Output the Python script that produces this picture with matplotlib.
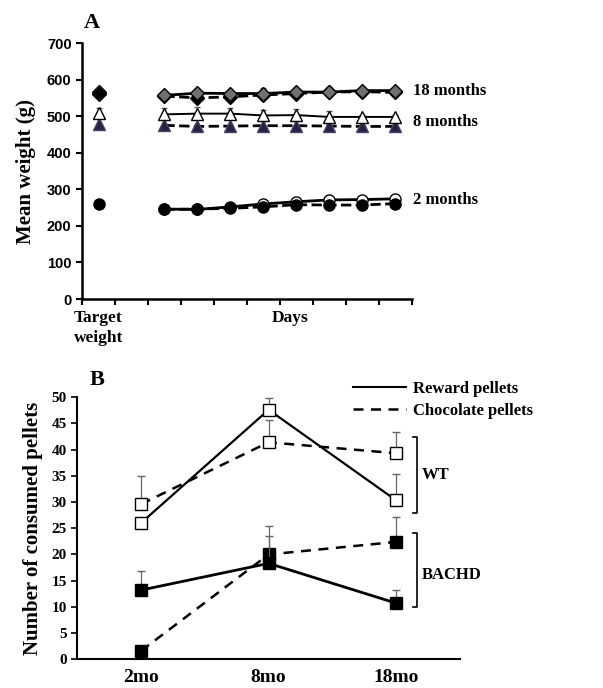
import matplotlib.pyplot as plt

# Panel A data (index 0 = target weight, 2..9 = days)
days_x = [2, 3, 4, 5, 6, 7, 8, 9]
target_x = 0
m18_wt = [557, 563, 562, 562, 566, 566, 570, 570]
m18_wt_err = [12, 8, 8, 14, 8, 14, 8, 6]
m18_hd = [555, 550, 553, 558, 562, 566, 567, 565]
m8_wt = [505, 507, 507, 502, 503, 498, 498, 498]
m8_wt_err = [18, 18, 16, 16, 16, 16, 6, 6]
m8_hd = [475, 472, 473, 474, 474, 473, 472, 472]
m2_wt = [246, 245, 252, 260, 266, 271, 272, 274]
m2_hd = [245, 246, 248, 252, 258, 257, 257, 261]
target_vals = {"m18_wt": 567, "m18_hd": 562, "m8_wt": 509, "m8_hd": 479,
               "m2_wt": 260, "m2_hd": 260}

# Panel B data
ages = ["2mo", "8mo", "18mo"]
wt_reward = [26.0, 47.6, 30.3]
wt_reward_err = [0.0, 2.2, 5.0]
wt_choc = [29.6, 41.4, 39.3]
wt_choc_err = [5.4, 4.3, 4.1]
hd_reward = [13.2, 18.3, 10.7]
hd_reward_err = [3.6, 5.3, 2.5]
hd_choc = [1.6, 20.0, 22.4]
hd_choc_err = [0.0, 5.5, 4.8]

serif = "Liberation Serif"
sans = "Liberation Sans"

fig = plt.figure(figsize=(6.03, 6.88), dpi=100)

# ---------------- Panel A ----------------
ax1 = fig.add_axes([0.136, 0.5654, 0.547, 0.372])

ax1.plot(days_x, m18_hd, "--", color="black", lw=2.0, marker="D", ms=7,
         mfc="black", mec="black", zorder=3)
ax1.errorbar(days_x, m18_wt, yerr=[[0]*8, m18_wt_err], fmt="-", color="black", lw=2.0,
             marker="D", ms=7, mfc="#707070", mec="black", ecolor="#555555",
             elinewidth=0.8, capsize=2, zorder=4)
ax1.plot(days_x, m8_hd, "--", color="black", lw=2.0, marker="^", ms=8,
         mfc="#2a2140", mec="#4a4070", zorder=3)
ax1.errorbar(days_x, m8_wt, yerr=[[0]*8, m8_wt_err], fmt="-", color="black", lw=1.4,
             marker="^", ms=9, mfc="white", mec="black", ecolor="#555555",
             elinewidth=0.8, capsize=2, zorder=4)
ax1.plot(days_x, m2_wt, "-", color="black", lw=2.0, marker="o", ms=8,
         mfc="white", mec="black", zorder=3)
ax1.plot(days_x, m2_hd, "--", color="black", lw=2.0, marker="o", ms=8,
         mfc="black", mec="black", zorder=4)

# target weights
ax1.plot(target_x, target_vals["m18_wt"], "D", ms=7, mfc="#707070", mec="black")
ax1.plot(target_x, target_vals["m18_hd"], "D", ms=7, mfc="black", mec="black")
ax1.errorbar(target_x, target_vals["m8_wt"], yerr=[[0], [14]], fmt="^", ms=9,
             mfc="white", mec="black", ecolor="#555555", elinewidth=0.8, capsize=2)
ax1.plot(target_x, target_vals["m8_hd"], "^", ms=8, mfc="#2a2140", mec="#4a4070")
ax1.plot(target_x, target_vals["m2_hd"], "o", ms=8, mfc="black", mec="black")

ax1.set_xlim(-0.5, 9.5)
ax1.set_ylim(0, 700)
ax1.set_yticks(range(0, 701, 100))
ax1.set_xticks([i - 0.5 for i in range(11)])
ax1.set_xticklabels([])
ax1.tick_params(axis="both", direction="out", length=4, width=1.5)
for lab in ax1.get_yticklabels():
    lab.set_fontfamily(sans)
    lab.set_fontweight("bold")
    lab.set_fontsize(10.5)
ax1.spines["top"].set_visible(False)
ax1.spines["right"].set_visible(False)
ax1.spines["left"].set_linewidth(1.8)
ax1.spines["bottom"].set_linewidth(1.8)
ax1.set_ylabel("Mean weight (g)", family=serif, weight="bold", fontsize=15, labelpad=8)

ax1.text(0, -30, "Target\nweight", ha="center", va="top", family=serif,
         weight="bold", fontsize=12.5, linespacing=1.3)
ax1.text(5.8, -30, "Days", ha="center", va="top", family=serif,
         weight="bold", fontsize=12.5)
ax1.text(9.55, 568, "18 months", ha="left", va="center", family=serif,
         weight="bold", fontsize=12, clip_on=False)
ax1.text(9.55, 483, "8 months", ha="left", va="center", family=serif,
         weight="bold", fontsize=12, clip_on=False)
ax1.text(9.55, 270, "2 months", ha="left", va="center", family=serif,
         weight="bold", fontsize=12, clip_on=False)
fig.text(0.153, 0.967, "A", family=serif, weight="bold", fontsize=16,
         ha="center", va="center")

# ---------------- Panel B ----------------
ax2 = fig.add_axes([0.128, 0.0417, 0.635, 0.381])
xb = [0, 1, 2]

ax2.errorbar(xb, wt_choc, yerr=[[0]*3, wt_choc_err], fmt="--", color="black",
             lw=1.8, dashes=(4, 3), marker="s", ms=8, mfc="white", mec="black",
             ecolor="#666666", elinewidth=0.9, capsize=3, zorder=3)
ax2.errorbar(xb, wt_reward, yerr=[[0]*3, wt_reward_err], fmt="-", color="black",
             lw=1.6, marker="s", ms=8, mfc="white", mec="black",
             ecolor="#666666", elinewidth=0.9, capsize=3, zorder=4)
ax2.errorbar(xb, hd_choc, yerr=[[0]*3, hd_choc_err], fmt="--", color="black",
             lw=1.8, dashes=(4, 3), marker="s", ms=8, mfc="black", mec="black",
             ecolor="#666666", elinewidth=0.9, capsize=3, zorder=3)
ax2.errorbar(xb, hd_reward, yerr=[[0]*3, hd_reward_err], fmt="-", color="black",
             lw=2.0, marker="s", ms=8, mfc="black", mec="black",
             ecolor="#666666", elinewidth=0.9, capsize=3, zorder=4)

ax2.set_xlim(-0.5, 2.5)
ax2.set_ylim(0, 50)
ax2.set_yticks(range(0, 51, 5))
ax2.set_xticks(xb)
ax2.set_xticklabels(ages, family=serif, weight="bold", fontsize=14)
ax2.tick_params(axis="x", length=0, pad=7)
ax2.tick_params(axis="y", direction="out", length=4, width=1.2)
for lab in ax2.get_yticklabels():
    lab.set_fontfamily(serif)
    lab.set_fontweight("bold")
    lab.set_fontsize(11)
ax2.spines["top"].set_visible(False)
ax2.spines["right"].set_visible(False)
ax2.spines["left"].set_linewidth(1.5)
ax2.spines["bottom"].set_linewidth(1.5)
ax2.set_ylabel("Number of consumed pellets", family=serif, weight="bold",
               fontsize=15, labelpad=6)

# group brackets
bx = 2.16
for lo, hi, name in [(28.0, 42.5, "WT"), (10.0, 24.0, "BACHD")]:
    ax2.plot([bx - 0.03, bx, bx, bx - 0.03], [lo, lo, hi, hi], color="black",
             lw=1.2, clip_on=False)
ax2.text(bx + 0.04, 35.2, "WT", family=serif, weight="bold", fontsize=12,
         ha="left", va="center")
ax2.text(bx + 0.04, 16.0, "BACHD", family=serif, weight="bold", fontsize=12,
         ha="left", va="center")

leg = ax2.legend(
    [plt.Line2D([], [], color="black", lw=1.5),
     plt.Line2D([], [], color="black", lw=1.8, ls="--", dashes=(4, 3))],
    ["Reward pellets", "Chocolate pellets"],
    loc="upper left", bbox_to_anchor=(0.68, 1.12), frameon=False,
    prop={"family": serif, "weight": "bold", "size": 12},
    handlelength=3.2, handletextpad=0.4, labelspacing=0.35)
fig.text(0.161, 0.447, "B", family=serif, weight="bold", fontsize=16,
         ha="center", va="center")

fig.savefig("out.png", dpi=100)
